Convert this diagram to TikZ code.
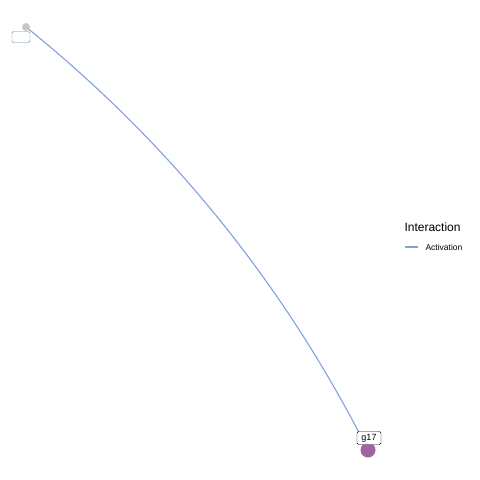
\documentclass[tikz,border=0pt]{standalone}
\usepackage{fontspec}
\setmainfont{Liberation Sans}
\usepackage{tikz}
\usetikzlibrary{arrows.meta}
\usepackage{xcolor}
\definecolor{edgeblue}{RGB}{130,160,225}
\definecolor{nodepurple}{RGB}{160,100,160}
\definecolor{boxblue}{RGB}{95,140,175}

\begin{document}
\begin{tikzpicture}[x=1pt,y=-1pt,
  edge/.style={edgeblue,line width=1.1pt},
  vert/.style={circle,inner sep=0pt,draw=none},
  lab/.style={rounded corners=1.5pt,fill=white,inner sep=1.2pt,font=\fontsize{9}{9}\selectfont}]
\useasboundingbox (0,0) rectangle (480,480);
\coordinate (src) at (26,27);
\coordinate (tgt) at (368,450);
\draw[edge] (src) .. controls (170,143) and (284,284) .. (tgt);
\node[vert,fill=gray!45,minimum size=8pt] (g0) at (src) {};
\node[vert,fill=nodepurple,minimum size=15pt] (g17) at (tgt) {};
\node[lab,draw=boxblue,minimum width=18pt,minimum height=11pt] (g0lab) at (21,37) {};
\node[lab,draw=black,minimum width=24pt,minimum height=13pt] (g17lab) at (369,438) {g17};
% legend
\node[anchor=west,font=\fontsize{12}{12}\selectfont] (legtitle) at (401,227) {Interaction};
\coordinate (legA) at (405,247);
\coordinate (legB) at (418,247);
\draw[edge] (legA) -- (legB);
\node[anchor=west,font=\fontsize{8.5}{8.5}\selectfont] (legitem) at (422,247) {Activation};
\end{tikzpicture}
\end{document}
